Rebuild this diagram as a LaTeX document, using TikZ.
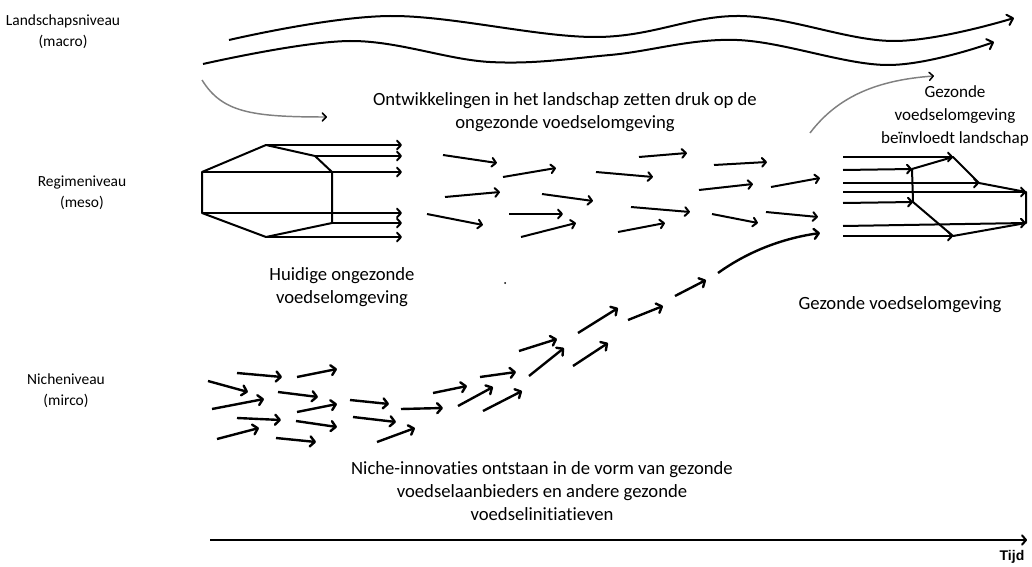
\documentclass[tikz,border=0pt]{standalone}
\usepackage{fontspec}
\setmainfont{Carlito}[Ligatures=NoCommon]
\newfontfamily\tijdfont{Liberation Sans}
\usetikzlibrary{arrows.meta}
\tikzset{
    level-label/.style = {align=center, font=\fontsize{11.6}{15.8}\selectfont},
    info-text/.style = {align=center, font=\fontsize{14}{17.25}\selectfont},
    wave-arrow/.style = {line width=1.5pt, -{Straight Barb[round, length=4pt, width=8pt]}},
    grey-arrow/.style = {draw=gray, line width=1.1pt, -{Straight Barb[round, length=3pt, width=6pt, color=black]}},
    regime-line/.style = {line width=1.5pt, line join=round},
    regime-arrow/.style = {line width=1.5pt, -{Straight Barb[round, length=3pt, width=6.5pt]}},
    niche-arrow/.style = {line width=1.8pt, -{Straight Barb[round, length=3.5pt, width=7.5pt]}},
}

\begin{document}
\begin{tikzpicture}[x=0.75pt, y=-0.75pt]
\useasboundingbox (0,0) rectangle (1032,567);

% levels
\node[level-label] (landscape) at (63,32) {Landschapsniveau\\(macro)};
\node[level-label] (regime) at (82,193) {Regimeniveau\\(meso)};
\node[level-label] (niche) at (66,391) {Nicheniveau\\(mirco)};

% landscape
\draw[wave-arrow] plot[smooth, tension=0.6] coordinates {(229,40) (390,16) (595,37) (740,16) (893,41) (1014,18)};
\draw[wave-arrow] plot[smooth, tension=0.6] coordinates {(203,64) (350,41) (490,62) (610,55) (737,40) (887,65) (994,42)};
\draw[grey-arrow] (202,80) .. controls (222,112) and (250,117) .. (327,117);
\draw[grey-arrow] (810,133) .. controls (838,96) and (878,80) .. (934,76);

\node[info-text] (pressure) at (565,112) {Ontwikkelingen in het landschap zetten druk op de\\ongezonde voedselomgeving};
\node[info-text, font=\fontsize{12.8}{17}\selectfont] (influence) at (955,116) {Gezonde\\voedselomgeving\\beïnvloedt landschap};

% current regime
\draw[regime-line] (202,172) -- (266,145) -- (315,156) -- (332,172) -- (332,223) -- (266,237) -- (202,213) -- cycle;
\path[regime-arrow] (266,145) edge (402,145) (315,156) edge (402,156)
    (202,172) edge (402,172) (202,213) edge (402,213)
    (332,223) edge (402,223) (266,237) edge (402,237);
\node[info-text] (current) at (342,287) {Huidige ongezonde\\voedselomgeving};

% regime in transition
\path[regime-arrow] (443,155) edge (497,163) (503,177) edge (556,168)
    (445,197) edge (500,192) (427,214) edge (483,225)
    (542,194) edge (593,201) (509,214) edge (563,214)
    (521,237) edge (576,223) (596,172) edge (653,177)
    (639,157) edge (687,153) (631,207) edge (690,212)
    (618,232) edge (665,223) (714,165) edge (767,162)
    (699,190) edge (753,184) (712,214) edge (758,223)
    (771,187) edge (820,178) (766,212) edge (818,217);
\fill (505,283) circle (1);

% new regime
\path[regime-arrow] (843,157) edge (953,157) (843,170) edge (912,169)
    (843,183) edge (979,183) (843,192) edge (1026,192)
    (843,203) edge (913,202) (843,226) edge (1026,223)
    (843,236) edge (953,236);
\draw[regime-line] (912,169) -- (953,157) -- (979,183) -- (1026,192) -- (1026,223) -- (953,236) -- (913,202) -- cycle;
\node[info-text] (healthy) at (900,305) {Gezonde voedselomgeving};

% niches
\path[niche-arrow] (237,373) edge (282,377) (297,377) edge (337,369)
    (208,381) edge (248,392) (278,392) edge (318,397)
    (212,409) edge (264,399) (297,412) edge (337,404)
    (350,400) edge (389,404) (237,418) edge (281,420)
    (296,421) edge (337,427) (353,417) edge (396,422)
    (401,409) edge (443,408) (217,439) edge (259,428)
    (276,438) edge (316,442) (377,442) edge (415,428)
    (433,393) edge (467,386) (458,406) edge (493,387)
    (483,411) edge (522,391) (480,377) edge (516,372)
    (519,351) edge (557,339) (529,376) edge (564,348)
    (573,366) edge (608,343) (578,333) edge (618,308)
    (628,320) edge (663,306) (675,296) edge (706,280);
\draw[niche-arrow] (718,273) .. controls (750,250) and (785,238) .. (820,233);
\node[info-text] (innovations) at (542,491) {Niche-innovaties ontstaan in de vorm van gezonde\\voedselaanbieders en andere gezonde\\voedselinitiatieven};

% time
\coordinate (t0) at (210,540);
\coordinate (t1) at (1027,540);
\draw[line width=1.5pt, -{Straight Barb[round, length=3pt, width=7pt]}] (t0) -- (t1);
\node[font=\tijdfont\bfseries\fontsize{10.5}{12}\selectfont] (tijd) at (1012,557) {Tijd};
\end{tikzpicture}
\end{document}
